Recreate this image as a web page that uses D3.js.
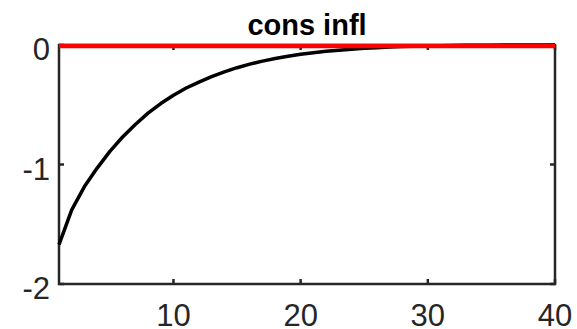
<!DOCTYPE html>
<html>
<head>
<meta charset="utf-8">
<script src="https://cdn.jsdelivr.net/npm/d3@7"></script>
<style>
  html, body { margin: 0; padding: 0; background: #fff; }
  svg { display: block; }
  text { font-family: "Liberation Sans", Arial, sans-serif; }
</style>
</head>
<body>
<svg id="chart" width="577" height="329"></svg>
<script>
// Impulse response of consumption inflation, periods 1..40
const periods = d3.range(1, 41);
const consInfl = [
  -1.67, -1.38, -1.185, -1.03, -0.89, -0.77, -0.665, -0.57, -0.49, -0.42,
  -0.36, -0.31, -0.265, -0.225, -0.19, -0.16, -0.135, -0.113, -0.094, -0.078,
  -0.065, -0.053, -0.043, -0.035, -0.028, -0.022, -0.017, -0.013, -0.010, -0.008,
  -0.006, -0.004, -0.003, -0.002, -0.0015, -0.001, -0.0008, -0.0005, -0.0003, -0.0002
];
const zeroLine = periods.map(() => 0);
const xTicks = [10, 20, 30, 40];
const yTicks = [0, -1, -2];
const titleText = "cons infl";

const svg = d3.select("#chart");
const plotLeft = 59, plotRight = 555, plotTop = 45, plotBottom = 284;

const x = d3.scaleLinear().domain([1, 40]).range([plotLeft, plotRight]);
const y = d3.scaleLinear().domain([-2, 0]).range([plotBottom, plotTop]);

const axisColor = "#262626";
const tickLen = 5;

// axis box
svg.append("rect")
  .attr("x", plotLeft).attr("y", plotTop)
  .attr("width", plotRight - plotLeft).attr("height", plotBottom - plotTop)
  .attr("fill", "none").attr("stroke", axisColor).attr("stroke-width", 2.5);

// inward tick marks on all four sides
const g = svg.append("g").attr("stroke", axisColor).attr("stroke-width", 2.5);
xTicks.forEach(t => {
  g.append("line").attr("x1", x(t)).attr("x2", x(t)).attr("y1", plotBottom).attr("y2", plotBottom - tickLen);
  g.append("line").attr("x1", x(t)).attr("x2", x(t)).attr("y1", plotTop).attr("y2", plotTop + tickLen);
});
yTicks.forEach(t => {
  g.append("line").attr("x1", plotLeft).attr("x2", plotLeft + tickLen).attr("y1", y(t)).attr("y2", y(t));
  g.append("line").attr("x1", plotRight).attr("x2", plotRight - tickLen).attr("y1", y(t)).attr("y2", y(t));
});

// tick labels
svg.append("g").selectAll("text").data(xTicks).join("text")
  .attr("x", d => x(d)).attr("y", plotBottom + 42)
  .attr("text-anchor", "middle")
  .attr("font-size", 31).attr("fill", axisColor)
  .text(d => d);

svg.append("g").selectAll("text").data(yTicks).join("text")
  .attr("x", plotLeft - 9).attr("y", d => y(d) + 15)
  .attr("text-anchor", "end")
  .attr("font-size", 31).attr("fill", axisColor)
  .text(d => String(d));

// title
svg.append("text")
  .attr("x", (plotLeft + plotRight) / 2).attr("y", 35)
  .attr("text-anchor", "middle")
  .attr("font-size", 29).attr("font-weight", "bold").attr("fill", "#000")
  .text(titleText);

const line = d3.line().x((d, i) => x(periods[i])).y(d => y(d));

// response curve
svg.append("path")
  .datum(consInfl)
  .attr("d", line)
  .attr("fill", "none").attr("stroke", "#000").attr("stroke-width", 3.5)
  .attr("stroke-linejoin", "round");

// zero reference line
svg.append("path")
  .datum(zeroLine)
  .attr("d", line)
  .attr("transform", "translate(0,1)")
  .attr("fill", "none").attr("stroke", "#ff0000").attr("stroke-width", 4.5);
</script>
</body>
</html>
